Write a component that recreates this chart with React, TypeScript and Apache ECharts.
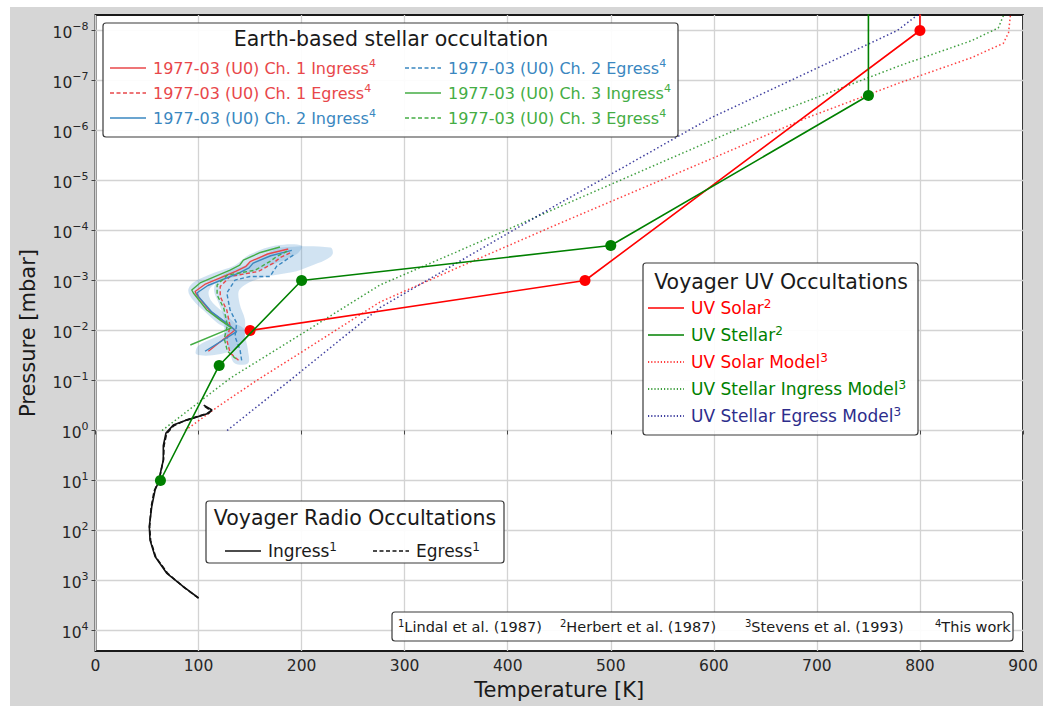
import React, { useEffect, useRef } from 'react';
import * as echarts from 'echarts';

const FONT = 'DejaVu Sans';

// Axes
const X_TICKS = [0, 100, 200, 300, 400, 500, 600, 700, 800, 900];
const Y_EXPONENTS = [-8, -7, -6, -5, -4, -3, -2, -1, 0, 1, 2, 3, 4];

// Voyager UV occultations (Herbert et al. 1987)
const UV_SOLAR_T = [150, 475, 800, 800];
const UV_SOLAR_P = [1e-2, 1e-3, 1e-8, 1e-9];
const UV_STELLAR_T = [63, 120, 200, 500, 750, 750];
const UV_STELLAR_P = [10, 0.05, 1e-3, 2e-4, 2e-7, 1e-9];

// Stevens et al. (1993) models
const SOLAR_MODEL_T = [87, 120, 157, 200, 276, 350, 451, 600, 690, 781, 850, 881, 886, 888];
const SOLAR_MODEL_P = [1, 0.32, 0.098, 0.027, 2.7e-3, 5.7e-4, 7.1e-5, 3.5e-6, 5.6e-7, 1.1e-7, 3.5e-8, 1.8e-8, 1.1e-8, 4.5e-9];
const INGRESS_MODEL_T = [64.6, 131, 200, 276, 350, 451, 648, 781, 850, 876, 882];
const INGRESS_MODEL_P = [1, 0.089, 0.0117, 1.23e-3, 2.7e-4, 3.3e-5, 5.6e-7, 5e-8, 1.6e-8, 8.9e-9, 4.5e-9];
const EGRESS_MODEL_T = [127.7, 189, 276, 451, 597, 778, 800];
const EGRESS_MODEL_P = [1, 0.098, 3.5e-3, 2.8e-5, 5.6e-7, 1e-8, 4.5e-9];

// Voyager radio occultations (Lindal et al. 1987)
const RADIO_IN_T = [105, 113, 110, 88.5, 75.5, 68.4, 65.8, 65.8, 63.3, 62, 57.8, 54.6, 52.2, 52.9, 57.8, 69, 85.2, 100];
const RADIO_IN_P = [0.31, 0.39, 0.45, 0.62, 0.78, 1.12, 2.0, 3.9, 6.6, 9.8, 15.5, 33, 83, 155, 330, 710, 1320, 2240];
const RADIO_EG_T = [106, 112, 108, 87, 76, 69, 66.5, 66, 63.5, 61.5, 57, 54, 52.5, 53.5, 58.5, 70, 85.5, 100];
const RADIO_EG_P = [0.33, 0.4, 0.46, 0.63, 0.8, 1.15, 2.0, 3.8, 6.5, 10, 16, 34, 85, 160, 340, 720, 1350, 2250];

// Earth-based stellar occultation 1977-03 (U0) (this work)
const CH1_IN_T = [187, 167, 150, 146, 136, 106, 96.6, 98, 111, 124, 135.4, 109.5];
const CH1_IN_P = [2.34e-4, 2.95e-4, 4.2e-4, 5.2e-4, 6.6e-4, 1.2e-3, 1.66e-3, 1.9e-3, 4.1e-3, 6.5e-3, 9.8e-3, 0.026];
const CH1_EG_T = [188.8, 179, 172.6, 158, 130.6, 121, 121, 127.4, 130.6, 127.4, 130.6, 140.3];
const CH1_EG_P = [2.8e-4, 3.5e-4, 4.5e-4, 6.6e-4, 8.3e-4, 1.32e-3, 2.1e-3, 3.9e-3, 8.3e-3, 0.0155, 0.028, 0.042];
const CH2_IN_T = [190.5, 170, 153, 149, 139, 109, 98.3, 100, 113, 126, 137, 106.3];
const CH2_IN_P = [2.5e-4, 3.2e-4, 4.5e-4, 5.6e-4, 7.1e-4, 1.26e-3, 1.78e-3, 2.1e-3, 4.3e-3, 6.8e-3, 0.0105, 0.026];
const CH2_EG_T = [192, 175.7, 169.3, 150, 135.4, 127.4, 130.6, 137, 135.4, 140.3, 142];
const CH2_EG_P = [3.1e-4, 5.2e-4, 8.3e-4, 8.3e-4, 9.8e-4, 1.78e-3, 3.9e-3, 7.1e-3, 0.0132, 0.0245, 0.042];
const CH3_IN_T = [179, 160, 143.5, 140, 130.6, 101.5, 93.4, 95, 108, 121, 132, 92];
const CH3_IN_P = [2.14e-4, 2.75e-4, 3.9e-4, 4.9e-4, 6.2e-4, 1.12e-3, 1.55e-3, 1.78e-3, 3.9e-3, 6.2e-3, 8.9e-3, 0.0195];
const CH3_EG_T = [186, 176, 169, 155, 128, 118, 118, 124.5, 128, 125, 128, 137];
const CH3_EG_P = [2.6e-4, 3.3e-4, 4.2e-4, 6.2e-4, 7.8e-4, 1.23e-3, 1.95e-3, 3.6e-3, 7.8e-3, 0.0145, 0.026, 0.038];

// Uncertainty envelopes (light blue)
const BAND_IN_P = [2.0e-4, 3e-4, 5e-4, 7e-4, 1.1e-3, 1.6e-3, 2.5e-3, 4e-3, 7e-3, 1e-2, 2e-2, 3e-2];
const BAND_IN_L = [175, 150, 135, 115, 95, 90, 95, 105, 118, 128, 100, 98];
const BAND_IN_R = [200, 195, 170, 150, 118, 110, 112, 122, 135, 145, 140, 120];
const BAND_EG_P = [2.2e-4, 3e-4, 4e-4, 5e-4, 6.5e-4, 9e-4, 1.5e-3, 3e-3, 6e-3, 1.2e-2, 2.5e-2, 4.5e-2];
const BAND_EG_L = [180, 165, 155, 145, 130, 120, 115, 120, 125, 125, 130, 135];
const BAND_EG_R = [228, 230, 222, 210, 195, 160, 140, 140, 145, 145, 148, 148];

const C_RED = '#e8474a';
const C_BLUE = '#3a87c0';
const C_GREEN = '#44ad44';
const C_NAVY = '#2d2d8c';

const lg = (p: number) => Math.log10(p);
const pts = (T: number[], P: number[]) => T.map((t, i) => [t, lg(P[i])]);

function lineSeries(name: string, T: number[], P: number[], color: string, width: number, dash: any, opacity = 1, z = 3) {
  return {
    name,
    type: 'line',
    data: pts(T, P),
    showSymbol: false,
    symbol: 'none',
    lineStyle: { color, width, type: dash, opacity },
    z,
    silent: true,
  };
}

function bandSeries(P: number[], L: number[], R: number[]) {
  return {
    type: 'custom',
    silent: true,
    z: 1,
    data: [[L[0], lg(P[0])]],
    renderItem: (_params: any, api: any) => {
      const left = P.map((p, i) => api.coord([L[i], lg(p)]));
      const right = P.map((p, i) => api.coord([R[i], lg(p)])).reverse();
      return {
        type: 'polygon',
        shape: { points: [...left, ...right], smooth: 0.35 },
        style: { fill: 'rgba(90,155,210,0.28)', stroke: 'none' },
      };
    },
  };
}

function supText(main: string, sup: string, color: string, size: number) {
  return {
    text: `{t|${main}}{s|${sup}}`,
    rich: {
      t: { fontSize: size, fontFamily: FONT, fill: color, color, lineHeight: size + 4, verticalAlign: 'middle' },
      s: { fontSize: Math.round(size * 0.68), fontFamily: FONT, fill: color, color, lineHeight: Math.round(size * 0.7), verticalAlign: 'top' },
    },
    textVerticalAlign: 'middle',
    verticalAlign: 'middle',
    textAlign: 'left',
    align: 'left',
  };
}

function legendEntry(x: number, y: number, color: string, dash: number[] | null, label: string, sup: string, size = 16, textColor?: string) {
  return [
    {
      type: 'line',
      z: 101,
      shape: { x1: x, y1: y, x2: x + 36, y2: y },
      style: { stroke: color, lineWidth: 1.6, lineDash: dash || undefined },
    },
    {
      type: 'text',
      z: 101,
      x: x + 43,
      y,
      style: supText(label, sup, textColor || color, size),
    },
  ];
}

function box(x: number, y: number, w: number, h: number) {
  return {
    type: 'rect',
    z: 100,
    shape: { x, y, width: w, height: h, r: 3 },
    style: { fill: 'rgba(255,255,255,0.92)', stroke: '#3a3a3a', lineWidth: 1.2 },
  };
}

function title(x: number, y: number, text: string) {
  return {
    type: 'text',
    z: 101,
    x,
    y,
    style: { text, fontSize: 20.5, fontFamily: FONT, fill: '#1a1a1a', textAlign: 'center', textVerticalAlign: 'middle', align: 'center', verticalAlign: 'middle' },
  };
}

export default function App() {
  const ref = useRef<HTMLDivElement>(null);
  useEffect(() => {
    if (!ref.current) return;
    const chart = echarts.init(ref.current, undefined, { renderer: 'svg' });

    const dotted = [1.5, 2.5];
    const dashed = [5, 2.5];

    const graphics: any[] = [];
    // Earth-based legend
    graphics.push(box(103, 23, 575, 114));
    graphics.push(title(391, 39, 'Earth-based stellar occultation'));
    graphics.push(...legendEntry(110, 68, C_RED, null, '1977-03 (U0) Ch. 1 Ingress', '4'));
    graphics.push(...legendEntry(110, 93, C_RED, [4, 2.5], '1977-03 (U0) Ch. 1 Egress', '4'));
    graphics.push(...legendEntry(110, 118, C_BLUE, null, '1977-03 (U0) Ch. 2 Ingress', '4'));
    graphics.push(...legendEntry(405, 68, C_BLUE, [4, 2.5], '1977-03 (U0) Ch. 2 Egress', '4'));
    graphics.push(...legendEntry(405, 93, C_GREEN, null, '1977-03 (U0) Ch. 3 Ingress', '4'));
    graphics.push(...legendEntry(405, 118, C_GREEN, [4, 2.5], '1977-03 (U0) Ch. 3 Egress', '4'));
    // UV legend
    graphics.push(box(643, 263, 275, 172));
    graphics.push(title(781, 282, 'Voyager UV Occultations'));
    graphics.push(...legendEntry(648, 308, 'red', null, 'UV Solar', '2', 17));
    graphics.push(...legendEntry(648, 335, 'green', null, 'UV Stellar', '2', 17));
    graphics.push(...legendEntry(648, 362, 'red', [1.2, 2], 'UV Solar Model', '3', 17));
    graphics.push(...legendEntry(648, 389, 'green', [1.2, 2], 'UV Stellar Ingress Model', '3', 17));
    graphics.push(...legendEntry(648, 416, 'navy', [1.2, 2], 'UV Stellar Egress Model', '3', 17, C_NAVY));
    // Radio legend
    graphics.push(box(206, 501, 298, 62));
    graphics.push(title(355, 518, 'Voyager Radio Occultations'));
    graphics.push(...legendEntry(225, 551, '#111', null, 'Ingress', '1', 17, '#1a1a1a'));
    graphics.push(...legendEntry(373, 551, '#111', [4, 2.5], 'Egress', '1', 17, '#1a1a1a'));
    // Footnote box
    graphics.push(box(392, 612, 621, 29));
    const notes: [number, string, string][] = [
      [398, '1', 'Lindal et al. (1987)'],
      [560, '2', 'Herbert et al. (1987)'],
      [745, '3', 'Stevens et al. (1993)'],
      [935, '4', 'This work'],
    ];
    notes.forEach(([x, s, t]) => {
      graphics.push({
        type: 'text',
        z: 101,
        x,
        y: 627,
        style: {
          text: `{s|${s}}{t|${t}}`,
          rich: {
            t: { fontSize: 14.5, fontFamily: FONT, fill: '#1a1a1a', color: '#1a1a1a', lineHeight: 18, verticalAlign: 'middle' },
            s: { fontSize: 10, fontFamily: FONT, fill: '#1a1a1a', color: '#1a1a1a', lineHeight: 10, verticalAlign: 'top' },
          },
          textVerticalAlign: 'middle',
          verticalAlign: 'middle',
        },
      });
    });

    const uvSolar = pts(UV_SOLAR_T, UV_SOLAR_P).map((v, i) => (i === UV_SOLAR_T.length - 1 ? { value: v, symbol: 'none' } : v));
    const uvStellar = pts(UV_STELLAR_T, UV_STELLAR_P).map((v, i) => (i === UV_STELLAR_T.length - 1 ? { value: v, symbol: 'none' } : v));

    chart.setOption({
      animation: false,
      backgroundColor: 'transparent',
      grid: {
        left: 95.5,
        top: 15,
        right: 20,
        bottom: 55,
        show: true,
        containLabel: false,
        outerBoundsMode: 'none',
        backgroundColor: '#ffffff',
        borderColor: '#1a1a1a',
        borderWidth: 2,
        z: 0,
      },
      xAxis: {
        type: 'value',
        min: X_TICKS[0],
        max: X_TICKS[X_TICKS.length - 1],
        interval: 100,
        name: 'Temperature [K]',
        nameLocation: 'middle',
        nameGap: 28,
        nameMoveOverlap: false,
        nameTextStyle: { fontSize: 21, fontFamily: FONT, color: '#1a1a1a' },
        axisLine: { show: false },
        axisTick: { show: true, length: 4, lineStyle: { color: '#444' } },
        axisLabel: { fontSize: 15.5, fontFamily: FONT, color: '#262626', margin: 7 },
        splitLine: { show: true, lineStyle: { color: '#d3d3d3', width: 1.3 } },
      },
      yAxis: {
        type: 'value',
        inverse: true,
        min: -8.31,
        max: 4.41,
        name: 'Pressure [mbar]',
        nameLocation: 'middle',
        nameGap: 57,
        nameRotate: 90,
        nameMoveOverlap: false,
        nameTextStyle: { fontSize: 21, fontFamily: FONT, color: '#1a1a1a' },
        axisLine: { show: false },
        axisTick: { show: true, length: 4, lineStyle: { color: '#444' }, customValues: Y_EXPONENTS },
        axisLabel: {
          customValues: Y_EXPONENTS,
          margin: 7,
          formatter: (v: number) => `{b|10}{e|${v < 0 ? '−' + -v : v}}`,
          rich: {
            b: { fontSize: 15.5, fontFamily: FONT, color: '#262626', lineHeight: 20, verticalAlign: 'bottom' },
            e: { fontSize: 11, fontFamily: FONT, color: '#262626', lineHeight: 13, verticalAlign: 'top' },
          },
        },
        splitLine: { show: true, lineStyle: { color: '#d3d3d3', width: 1.3 } },
      },
      series: [
        bandSeries(BAND_IN_P, BAND_IN_L, BAND_IN_R),
        bandSeries(BAND_EG_P, BAND_EG_L, BAND_EG_R),
        lineSeries('solarModel', SOLAR_MODEL_T, SOLAR_MODEL_P, 'red', 1.5, dotted, 0.75),
        lineSeries('ingressModel', INGRESS_MODEL_T, INGRESS_MODEL_P, 'green', 1.5, dotted, 0.75),
        lineSeries('egressModel', EGRESS_MODEL_T, EGRESS_MODEL_P, 'navy', 1.5, dotted, 0.75),
        lineSeries('radioIn', RADIO_IN_T, RADIO_IN_P, '#111', 1.6, 'solid'),
        lineSeries('radioEg', RADIO_EG_T, RADIO_EG_P, '#111', 1.6, dashed),
        lineSeries('ch1in', CH1_IN_T, CH1_IN_P, C_RED, 1.4, 'solid'),
        lineSeries('ch1eg', CH1_EG_T, CH1_EG_P, C_RED, 1.4, [4, 2.5]),
        lineSeries('ch2in', CH2_IN_T, CH2_IN_P, C_BLUE, 1.4, 'solid'),
        lineSeries('ch2eg', CH2_EG_T, CH2_EG_P, C_BLUE, 1.4, [4, 2.5]),
        lineSeries('ch3in', CH3_IN_T, CH3_IN_P, C_GREEN, 1.4, 'solid'),
        lineSeries('ch3eg', CH3_EG_T, CH3_EG_P, C_GREEN, 1.4, [4, 2.5]),
        {
          name: 'uvSolar',
          type: 'line',
          data: uvSolar,
          symbol: 'circle',
          symbolSize: 11,
          itemStyle: { color: 'red' },
          lineStyle: { color: 'red', width: 1.6 },
          z: 5,
          silent: true,
        },
        {
          name: 'uvStellar',
          type: 'line',
          data: uvStellar,
          symbol: 'circle',
          symbolSize: 11,
          itemStyle: { color: 'green' },
          lineStyle: { color: 'green', width: 1.6 },
          z: 6,
          silent: true,
        },
      ],
      graphic: { elements: graphics },
    });
    return () => chart.dispose();
  }, []);

  return (
    <div style={{ position: 'fixed', left: 0, top: 0, width: 1043, height: 706, background: '#ffffff' }}>
      <div style={{ position: 'absolute', left: 10, top: 7, width: 1033, height: 699, background: '#d6d6d6' }} />
      <div ref={ref} style={{ position: 'absolute', left: 0, top: 0, width: 1043, height: 706 }} />
    </div>
  );
}
